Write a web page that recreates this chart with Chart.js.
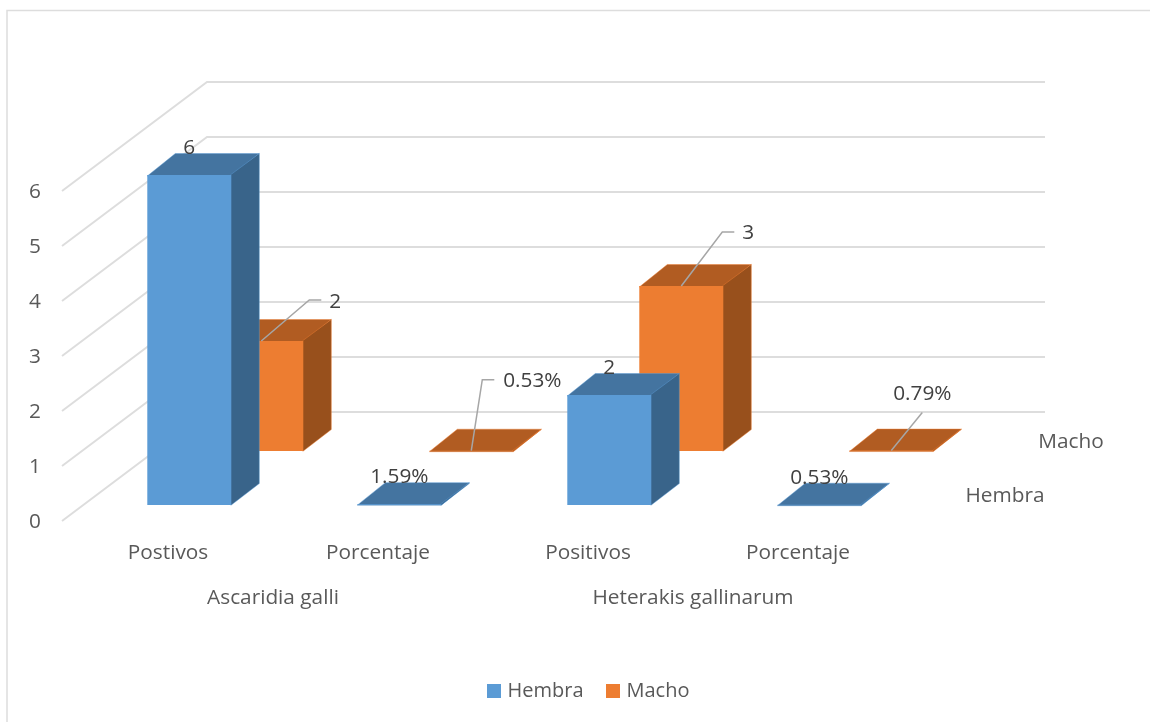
<!DOCTYPE html>
<html>
<head>
<meta charset="utf-8">
<style>html,body{margin:0;padding:0;background:#fff}canvas{display:block}</style>
<script src="https://cdn.jsdelivr.net/npm/chart.js@4"></script>
</head>
<body>
<canvas id="c" width="1150" height="722"></canvas>
<script>
const categories = ['Postivos', 'Porcentaje', 'Positivos', 'Porcentaje'];
const groups = ['Ascaridia galli', 'Heterakis gallinarum'];
const hembra = [6, 0.0159, 2, 0.0053];
const macho = [2, 0.0053, 3, 0.0079];
const yTicks = [0, 1, 2, 3, 4, 5, 6];
const depthLabels = ['Hembra', 'Macho'];

const FSIZE = 20.8;
const FONT = FSIZE + 'px "Open Sans"';
const TXT = '#595959', DARK = '#404040', GRID = '#DDDDDD', LEAD = '#A6A6A6';
const ROW = {dx: 72, dy: -54};      // depth step between the two series rows
const BAR = {dx: 28, dy: -21.5};    // depth of a bar
const SKIN = [
  {front: '#5B9BD5', top: '#4474A0', side: '#39648A'},
  {front: '#ED7D31', top: '#B15C22', side: '#98501C'}
];
// leader lines for the Macho labels: [elbow, end, label centre] relative to the bar's front-top centre
const LEADERS = [
  [[48, -41], [60, -41], [74, -39]],
  [[11, -71], [23, -71], [61, -70]],
  [[41, -54], [53, -54], [67, -53]],
  [[31, -38], [31, -38], [31, -56]]
];
const fmt = v => v >= 1 ? String(v) : (v * 100).toFixed(2) + '%';

function poly(ctx, pts, fill, stroke) {
  ctx.beginPath();
  pts.forEach((p, i) => i ? ctx.lineTo(p[0], p[1]) : ctx.moveTo(p[0], p[1]));
  ctx.closePath();
  ctx.fillStyle = fill; ctx.fill();
  ctx.globalAlpha = 0.45;
  ctx.strokeStyle = stroke; ctx.lineWidth = 1; ctx.stroke();
  ctx.globalAlpha = 1;
}
function text(ctx, s, x, y, color, align) {
  ctx.font = FONT; ctx.fillStyle = color;
  ctx.textAlign = align || 'center'; ctx.textBaseline = 'middle';
  ctx.fillText(s, x, y);
}

const chart3d = {
  id: 'chart3d',
  afterLayout(chart) {
    const lg = chart.legend;
    const shift = 85.7;
    lg.left += shift; lg.right += shift;
    const h = lg.bottom - lg.top;
    lg.top = 655; lg.bottom = 655 + h;
  },
  beforeDatasetsDraw(chart) {
    const {ctx} = chart, y = chart.scales.y, x = chart.scales.x;
    ctx.save();
    // frame
    ctx.strokeStyle = GRID; ctx.lineWidth = 1.5;
    ctx.beginPath(); ctx.moveTo(7, 722); ctx.lineTo(7, 10.5); ctx.lineTo(1150, 10.5); ctx.stroke();
    // walls
    ctx.lineWidth = 2;
    yTicks.forEach(v => {
      const p = y.getPixelForValue(v);
      ctx.beginPath();
      ctx.moveTo(62, p + 16); ctx.lineTo(207, p - 93); ctx.lineTo(1045, p - 93);
      ctx.stroke();
      text(ctx, String(v), 35, p + 17, TXT);
    });
    // category, group and depth labels
    const cx = categories.map((c, i) => x.getPixelForValue(i) - 21.3);
    categories.forEach((c, i) => text(ctx, c, cx[i], 553, TXT));
    groups.forEach((g, i) => text(ctx, g, (cx[i * 2] + cx[i * 2 + 1]) / 2, 598, TXT));
    text(ctx, depthLabels[0], 1005, 496, TXT);
    text(ctx, depthLabels[1], 1071, 442, TXT);
    ctx.restore();
  },
  beforeDatasetDraw(chart, args) {
    const {ctx} = chart, i = args.index, skin = SKIN[i];
    ctx.save();
    if (i === 1) ctx.translate(ROW.dx, ROW.dy);
    chart.getDatasetMeta(i).data.forEach(b => {
      const l = b.x - b.width / 2, r = b.x + b.width / 2;
      // both faces run one pixel under the front face, so nothing shows through its edge
      poly(ctx, [[l, b.y + 1], [r, b.y + 1], [r + BAR.dx, b.y + BAR.dy], [l + BAR.dx, b.y + BAR.dy]], skin.top, skin.front);
      poly(ctx, [[r - 1, b.y], [r + BAR.dx, b.y + BAR.dy], [r + BAR.dx, b.base + BAR.dy], [r, b.base], [r - 1, b.base]], skin.side, skin.front);
    });
  },
  afterDatasetDraw(chart) {
    chart.ctx.restore();
  },
  afterDatasetsDraw(chart) {
    const {ctx} = chart;
    ctx.save();
    chart.getDatasetMeta(1).data.forEach((b, i) => {
      const ax = b.x + ROW.dx, ay = b.y + ROW.dy, L = LEADERS[i];
      ctx.strokeStyle = LEAD; ctx.lineWidth = 1.5;
      ctx.beginPath(); ctx.moveTo(ax, ay);
      ctx.lineTo(ax + L[0][0], ay + L[0][1]); ctx.lineTo(ax + L[1][0], ay + L[1][1]);
      ctx.stroke();
      text(ctx, fmt(macho[i]), ax + L[2][0], ay + L[2][1], DARK);
    });
    chart.getDatasetMeta(0).data.forEach((b, i) => {
      text(ctx, fmt(hembra[i]), b.x, b.y - 27, DARK);
    });
    ctx.restore();
  }
};

new Chart(document.getElementById('c'), {
  type: 'bar',
  plugins: [chart3d],
  data: {
    labels: categories,
    datasets: [
      {label: 'Hembra', data: hembra, backgroundColor: SKIN[0].front, borderColor: SKIN[0].front, borderWidth: 0, clip: false, barPercentage: 0.4, categoryPercentage: 1, grouped: false},
      {label: 'Macho', data: macho, backgroundColor: SKIN[1].front, borderColor: SKIN[1].front, borderWidth: 0, clip: false, barPercentage: 0.4, categoryPercentage: 1, grouped: false}
    ]
  },
  options: {
    responsive: false,
    animation: false,
    layout: {padding: {left: 84.3, right: 225.7, top: 175, bottom: 161}},
    scales: {
      x: {display: false},
      y: {display: false, min: 0, max: 6, ticks: {stepSize: 1}}
    },
    plugins: {
      tooltip: {enabled: false},
      legend: {
        position: 'bottom',
        labels: {
          color: TXT, font: {family: 'Open Sans', size: 20},
          boxWidth: 7, boxHeight: 7, padding: 26,
          generateLabels(chart) {
            return Chart.defaults.plugins.legend.labels.generateLabels(chart).map(l => {
              l.strokeStyle = l.fillStyle; l.lineWidth = 7; return l;
            });
          }
        }
      }
    }
  }
});
</script>
</body>
</html>
